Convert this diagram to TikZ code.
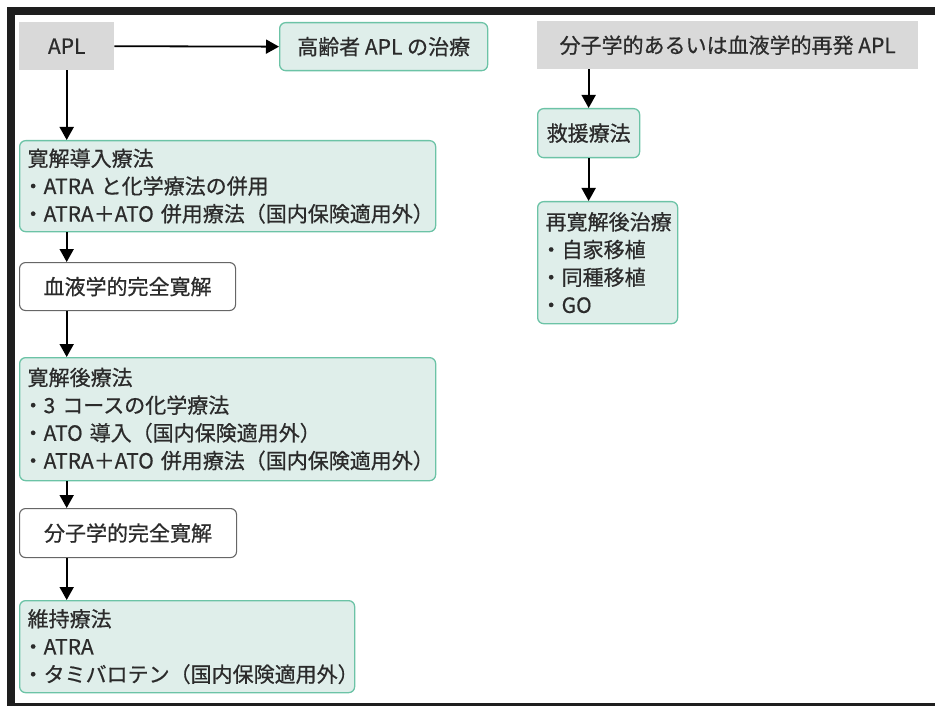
\documentclass[tikz,border=0pt]{standalone}
\usepackage{fontspec}
\setmainfont[FakeBold=0.6,AutoFakeBold=0.6]{Noto Sans CJK JP}
\usetikzlibrary{arrows.meta}
\definecolor{gbd}{HTML}{6CC3A6}
\definecolor{gfill}{HTML}{DFEEEA}
\definecolor{gry}{HTML}{D9D9D9}
\definecolor{txt}{HTML}{2B2B2B}
\definecolor{frm}{HTML}{1E1E1E}
\newcommand\bul{\makebox[16pt][l]{\kern-5pt ・}}
\tikzset{
  base/.style={font=\fontsize{21}{27.7}\selectfont, text=txt, inner ysep=0pt, inner xsep=8pt, anchor=north west},
  graybox/.style={base, fill=gry, align=center},
  greenbox/.style={base, draw=gbd, fill=gfill, line width=1.3pt, rounded corners=6pt, align=center},
  whitebox/.style={base, draw=black!60, fill=white, line width=1.1pt, rounded corners=6pt, align=center},
  listbox/.style={greenbox, align=left, text width=#1},
  arr/.style={line width=1.8pt, draw=black, -{Triangle[length=13pt,width=14pt]}}
}
\begin{document}
\begin{tikzpicture}[x=1pt,y=-1pt]
\useasboundingbox (0,0) rectangle (935,706);
% frame
\fill[frm] (7,7) rectangle (935,15);
\fill[frm] (7,7) rectangle (15,706);
\fill[frm] (7,703) rectangle (935,706);
% left column
\node[graybox, minimum width=95pt, minimum height=48pt] (apl) at (19,22) {APL};
\node[greenbox, minimum width=208pt, minimum height=48pt] (old) at (279,22) {高齢者 APL の治療};
\node[listbox=400pt, minimum height=91pt] (ind) at (19,140) {寛解導入療法\\\mbox{\bul ATRA と化学療法の併用}\\\mbox{\bul ATRA＋ATO 併用療法（国内保険適用外）}};
\node[whitebox, minimum width=216pt, minimum height=48pt] (hem) at (19,262) {血液学的完全寛解};
\node[listbox=400pt, minimum height=123pt] (post) at (19,357) {寛解後療法\\\mbox{\bul 3 コースの化学療法}\\\mbox{\bul ATO 導入（国内保険適用外）}\\\mbox{\bul ATRA＋ATO 併用療法（国内保険適用外）}};
\node[whitebox, minimum width=217pt, minimum height=49pt] (mol) at (19,508) {分子学的完全寛解};
\node[listbox=319pt, minimum height=92pt] (mnt) at (19,600) {維持療法\\\bul ATRA\\\mbox{\bul タミバロテン（国内保険適用外）}};
% right column
\node[graybox, minimum width=381pt, minimum height=48pt] (rel) at (537,21) {分子学的あるいは血液学的再発 APL};
\node[greenbox, minimum width=102pt, minimum height=49pt] (sal) at (537,108) {救援療法};
\node[listbox=124pt, minimum height=122pt] (re) at (537,201) {再寛解後治療\\\bul 自家移植\\\bul 同種移植\\\bul GO};
% connectors
\draw[arr] (apl.east) -- (old.west);
\draw[arr] (apl.south) -- (apl.south |- ind.north);
\draw[arr] (apl.south |- ind.south) -- (apl.south |- hem.north);
\draw[arr] (apl.south |- hem.south) -- (apl.south |- post.north);
\draw[arr] (apl.south |- post.south) -- (apl.south |- mol.north);
\draw[arr] (apl.south |- mol.south) -- (apl.south |- mnt.north);
\draw[arr] (sal.north |- rel.south) -- (sal.north);
\draw[arr] (sal.south) -- (sal.south |- re.north);
\end{tikzpicture}
\end{document}
